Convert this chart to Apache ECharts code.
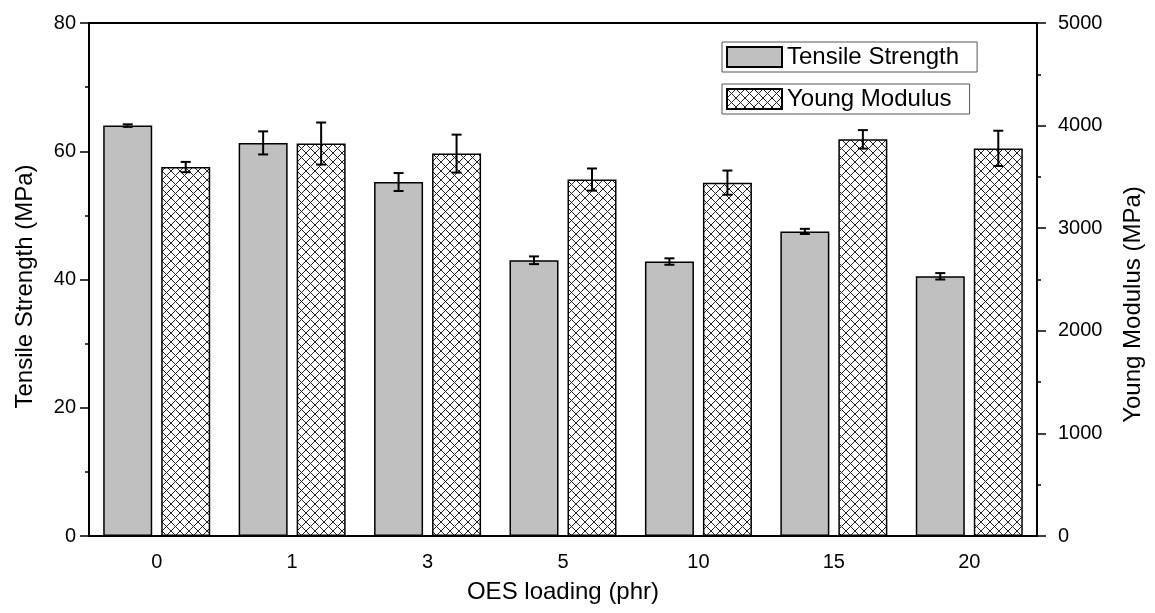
<!DOCTYPE html>
<html>
<head>
<meta charset="utf-8">
<title>Tensile Strength and Young Modulus vs OES loading</title>
<script src="https://cdn.jsdelivr.net/npm/echarts@6/dist/echarts.min.js"></script>
<style>
  html, body { margin: 0; padding: 0; background: #fff; }
  #chart { width: 1155px; height: 613px; }
</style>
</head>
<body>
<div id="chart"></div>
<script>
// data
var categories = ['0', '1', '3', '5', '10', '15', '20'];
var tensile = [64.0, 61.3, 55.2, 43.0, 42.8, 47.5, 40.5];
var tensileErr = [0.2, 1.8, 1.4, 0.6, 0.5, 0.4, 0.5];
var modulus = [3596, 3825, 3727, 3474, 3444, 3866, 3778];
var modulusErr = [50, 205, 185, 108, 118, 90, 172];
var leftTicks = { min: 0, max: 80, interval: 20 };
var rightTicks = { min: 0, max: 5000, interval: 1000 };

var FONT = '"Liberation Sans", Arial, sans-serif';
var BAR_W = 49;
var BAR_GAP = 9; // px between the two bars of a group
var TILE = 9;

// cross hatch tile for the modulus bars
function hatchTile() {
    var c = document.createElement('canvas');
    c.width = TILE; c.height = TILE;
    var ctx = c.getContext('2d');
    ctx.fillStyle = '#fff';
    ctx.fillRect(0, 0, TILE, TILE);
    ctx.strokeStyle = '#222';
    ctx.lineWidth = 1;
    ctx.beginPath();
    ctx.moveTo(0, 0); ctx.lineTo(TILE, TILE);
    ctx.moveTo(TILE, 0); ctx.lineTo(0, TILE);
    ctx.stroke();
    return c;
}

function errData(vals, errs) {
    return vals.map(function (v, i) { return [i, v - errs[i], v + errs[i]]; });
}

function errRender(side) {
    return function (params, api) {
        var lo = api.coord([api.value(0), api.value(1)]);
        var hi = api.coord([api.value(0), api.value(2)]);
        var x = lo[0] + side * (BAR_W / 2 + BAR_GAP / 2);
        var cap = 5;
        var style = { stroke: '#000', lineWidth: 2 };
        return {
            type: 'group',
            children: [
                { type: 'line', shape: { x1: x, y1: lo[1], x2: x, y2: hi[1] }, style: style },
                { type: 'line', shape: { x1: x - cap, y1: lo[1], x2: x + cap, y2: lo[1] }, style: style },
                { type: 'line', shape: { x1: x - cap, y1: hi[1], x2: x + cap, y2: hi[1] }, style: style }
            ]
        };
    };
}

function valueAxis(t, pos, name, gap, margin, shift) {
    return {
        type: 'value',
        position: pos,
        min: t.min, max: t.max, interval: t.interval,
        name: name,
        nameLocation: 'middle',
        nameRotate: 90,
        nameGap: gap,
        nameTextStyle: { fontFamily: FONT, fontSize: 24, color: '#000', padding: [0, shift, 0, 0] },
        axisLine: { show: true, lineStyle: { color: '#000', width: 2 } },
        axisTick: { show: true, length: 9, lineStyle: { color: '#000', width: 1.5 } },
        minorTick: { show: true, splitNumber: 2, length: 4, lineStyle: { color: '#000', width: 1.5 } },
        splitLine: { show: false },
        axisLabel: {
            fontFamily: FONT, fontSize: 20, color: '#000', margin: margin,
            formatter: function (v) { return String(v); }
        }
    };
}

var hatch = { image: hatchTile(), repeat: 'repeat' };

function legendBox(name, top) {
    return {
        data: [name],
        left: 722,
        top: top,
        orient: 'vertical',
        icon: 'rect',
        itemWidth: 55,
        itemHeight: 20,
        padding: [3, 18, 3, 4],
        borderColor: '#555',
        borderWidth: 1,
        selectedMode: false,
        textStyle: { fontFamily: FONT, fontSize: 24, color: '#000' }
    };
}

var chart = echarts.init(document.getElementById('chart'));
chart.setOption({
    animation: false,
    backgroundColor: '#fff',
    grid: {
        left: 89, right: 118, top: 23, bottom: 77,
        show: true, borderColor: '#000', borderWidth: 2, backgroundColor: 'transparent'
    },
    legend: [
        legendBox('Tensile Strength', 42),
        legendBox('Young Modulus', 84)
    ],
    xAxis: {
        type: 'category',
        data: categories,
        name: 'OES loading (phr)',
        nameLocation: 'middle',
        nameGap: 44,
        nameTextStyle: { fontFamily: FONT, fontSize: 24, color: '#000' },
        axisLine: { lineStyle: { color: '#000', width: 2 } },
        axisTick: { alignWithLabel: true, length: 9, lineStyle: { color: '#000', width: 1.5 } },
        axisLabel: { fontFamily: FONT, fontSize: 20, color: '#000', margin: 16 }
    },
    yAxis: [
        valueAxis(leftTicks, 'left', 'Tensile Strength (MPa)', 52, 13, 14),
        valueAxis(rightTicks, 'right', 'Young Modulus (MPa)', 84, 21, 50)
    ],
    series: [
        {
            name: 'Tensile Strength',
            type: 'bar',
            yAxisIndex: 0,
            data: tensile,
            barWidth: BAR_W,
            barGap: (BAR_GAP / BAR_W * 100) + '%',
            itemStyle: { color: '#c0c0c0', borderColor: '#000', borderWidth: 1.5 }
        },
        {
            name: 'Young Modulus',
            type: 'bar',
            yAxisIndex: 1,
            data: modulus,
            barWidth: BAR_W,
            itemStyle: { color: hatch, borderColor: '#000', borderWidth: 1.5 }
        },
        {
            type: 'custom',
            yAxisIndex: 0,
            data: errData(tensile, tensileErr),
            encode: { x: 0, y: [1, 2] },
            renderItem: errRender(-1),
            z: 10
        },
        {
            type: 'custom',
            yAxisIndex: 1,
            data: errData(modulus, modulusErr),
            encode: { x: 0, y: [1, 2] },
            renderItem: errRender(1),
            z: 10
        }
    ]
});
</script>
</body>
</html>
